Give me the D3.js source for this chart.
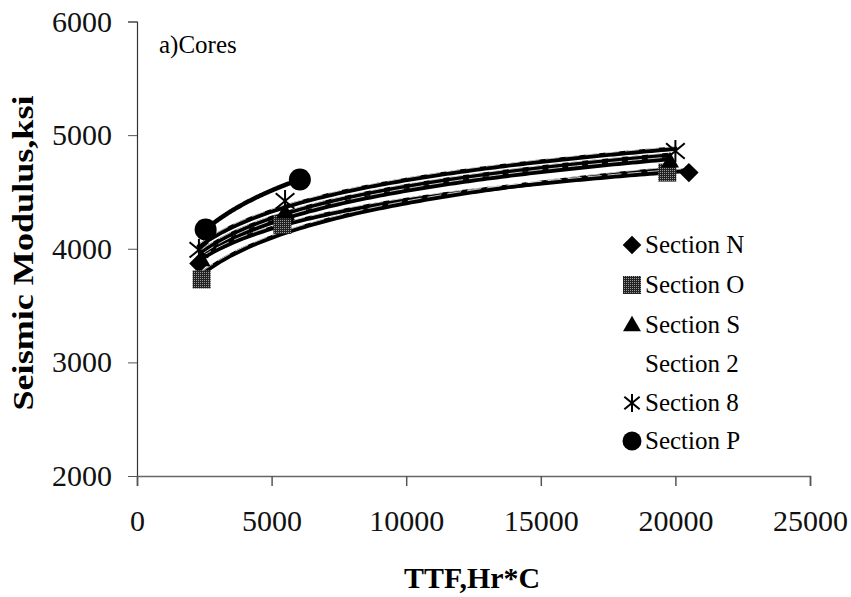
<!DOCTYPE html>
<html>
<head>
<meta charset="utf-8">
<script src="https://cdn.jsdelivr.net/npm/d3@7"></script>
<style>
  html, body { margin: 0; padding: 0; background: #fff; }
  svg { display: block; }
</style>
</head>
<body>
<svg id="chart" width="851" height="597"></svg>
<script>
// Seismic modulus of cores vs. time-temperature factor
const xTicks = [0, 5000, 10000, 15000, 20000, 25000];
const yTicks = [2000, 3000, 4000, 5000, 6000];

const sectionNames = ["Section N", "Section O", "Section S", "Section 2", "Section 8", "Section P"];
const sectionSymbols = ["diamond", "square", "triangle", "none", "asterisk", "circle"];

const ttfN = [2300, 5500, 20500];
const modN = [3870, 4260, 4670];
const ttfO = [2400, 5400, 19700];
const modO = [3730, 4210, 4670];
const ttfS = [2400, 5500, 19800];
const modS = [3900, 4320, 4770];
const ttf2 = [2400, 5500, 19800];
const mod2 = [3950, 4350, 4810];
const ttf8 = [2300, 5500, 20000];
const mod8 = [3990, 4420, 4860];
const ttfP = [2550, 6050];
const modP = [4170, 4610];

const ttfs = [ttfN, ttfO, ttfS, ttf2, ttf8, ttfP];
const mods = [modN, modO, modS, mod2, mod8, modP];

const series = sectionNames.map((name, i) => ({
  name,
  symbol: sectionSymbols[i],
  points: ttfs[i].map((x, j) => ({ x, y: mods[i][j] }))
}));

const svg = d3.select("#chart");
const x = d3.scaleLinear().domain([0, 25000]).range([137, 810]);
const y = d3.scaleLinear().domain([2000, 6000]).range([476, 21.5]);

const serif = "'Liberation Serif', 'Times New Roman', serif";

// dithered fill used by the square markers
const defs = svg.append("defs");
const pat = defs.append("pattern").attr("id", "dither")
  .attr("width", 2).attr("height", 2).attr("patternUnits", "userSpaceOnUse");
pat.append("rect").attr("width", 2).attr("height", 2).attr("fill", "#222");
pat.append("rect").attr("width", 1).attr("height", 1).attr("fill", "#999");

// axes
const yAxis = d3.axisLeft(y).tickValues(yTicks).tickSize(9).tickPadding(16).tickFormat(d3.format("d"));
const gy = svg.append("g").attr("transform", `translate(${x(0)},0)`).call(yAxis);
gy.select(".domain").attr("stroke", "#333").attr("stroke-width", 1.2);
gy.selectAll(".tick line").attr("stroke", "#555");
gy.selectAll(".tick text").attr("font-family", serif).attr("font-size", 30).attr("fill", "#111");

const xAxis = d3.axisBottom(x).tickValues(xTicks).tickSize(10).tickPadding(24).tickFormat(d3.format("d"));
const gx = svg.append("g").attr("transform", `translate(0,${y(2000)})`).call(xAxis);
gx.select(".domain").attr("stroke", "#666").attr("stroke-width", 1.5);
gx.selectAll(".tick line").attr("stroke", "#555").attr("stroke-width", 1.5);
gx.selectAll(".tick text").attr("font-family", serif).attr("font-size", 30).attr("fill", "#111");

// axis titles
svg.append("text")
  .attr("x", 472).attr("y", 588)
  .attr("text-anchor", "middle")
  .attr("font-family", serif).attr("font-weight", "bold").attr("font-size", 30)
  .attr("textLength", 136).attr("lengthAdjust", "spacingAndGlyphs")
  .text("TTF,Hr*C");

svg.append("text")
  .attr("transform", "translate(33,253) rotate(-90)")
  .attr("text-anchor", "middle")
  .attr("font-family", serif).attr("font-weight", "bold").attr("font-size", 30)
  .attr("textLength", 315).attr("lengthAdjust", "spacingAndGlyphs")
  .text("Seismic Modulus,ksi");

svg.append("text")
  .attr("x", 159).attr("y", 53)
  .attr("font-family", serif).attr("font-size", 25)
  .text("a)Cores");

// logarithmic trend line y = a*ln(x) + b, fitted to each section's points
function logFit(pts) {
  const lx = pts.map(p => Math.log(p.x));
  const mx = d3.mean(lx), my = d3.mean(pts, p => p.y);
  let sxy = 0, sxx = 0;
  pts.forEach((p, i) => { sxy += (lx[i] - mx) * (p.y - my); sxx += (lx[i] - mx) ** 2; });
  const a = sxy / sxx, b = my - a * mx;
  return v => a * Math.log(v) + b;
}

const line = d3.line().x(d => x(d[0])).y(d => y(d[1])).curve(d3.curveLinear);

function trendPoints(s, offset) {
  const f = logFit(s.points);
  const [x0, x1] = d3.extent(s.points, p => p.x);
  return d3.range(0, 101).map(k => {
    const v = x0 + (x1 - x0) * k / 100;
    return [v, f(v) + offset];
  });
}

const trends = svg.append("g");
series.forEach(s => {
  trends.append("path").attr("d", line(trendPoints(s, 0)))
    .attr("fill", "none").attr("stroke", "#000").attr("stroke-width", 4.5)
    .attr("stroke-linecap", "round");
});
// thin light streaks between adjacent trend lines
series.forEach(s => {
  if (s.symbol === "circle") return;
  trends.append("path").attr("d", line(trendPoints(s, 18)))
    .attr("fill", "none").attr("stroke", "#fff").attr("stroke-width", 0.9)
    .attr("stroke-dasharray", "14 6").attr("opacity", 0.85);
});

// marker drawing
function drawMarker(g, symbol, cx, cy, size) {
  const s = size;
  if (symbol === "diamond") {
    g.append("path").attr("d", d3.symbol(d3.symbolDiamond2, s * s / 2)())
      .attr("transform", `translate(${cx},${cy})`).attr("fill", "#000");
  } else if (symbol === "square") {
    g.append("rect").attr("x", cx - s / 2).attr("y", cy - s / 2)
      .attr("width", s).attr("height", s).attr("fill", "url(#dither)");
  } else if (symbol === "triangle") {
    g.append("path").attr("d", d3.symbol(d3.symbolTriangle, s * s * 0.43)())
      .attr("transform", `translate(${cx},${cy + 1})`).attr("fill", "#000");
  } else if (symbol === "asterisk") {
    const r = s / 2;
    const gg = g.append("g").attr("transform", `translate(${cx},${cy})`)
      .attr("stroke", "#000").attr("stroke-width", 2);
    gg.append("line").attr("x1", 0).attr("y1", -r).attr("x2", 0).attr("y2", r);
    gg.append("line").attr("x1", -r * 0.85).attr("y1", -r * 0.7).attr("x2", r * 0.85).attr("y2", r * 0.7);
    gg.append("line").attr("x1", -r * 0.85).attr("y1", r * 0.7).attr("x2", r * 0.85).attr("y2", -r * 0.7);
  } else if (symbol === "circle") {
    g.append("circle").attr("cx", cx).attr("cy", cy).attr("r", s / 2).attr("fill", "#000");
  }
}

const marks = svg.append("g");
series.forEach(s => {
  const sz = s.symbol === "circle" ? 22 : s.symbol === "asterisk" ? 22 : s.symbol === "diamond" ? 22 : 18;
  s.points.forEach(p => drawMarker(marks, s.symbol, x(p.x), y(p.y), sz));
});

// legend
const legend = svg.append("g");
const rowY = [245, 285, 325, 364, 403, 441];
series.forEach((s, i) => {
  const ly = rowY[i];
  const sz = s.symbol === "diamond" ? 21 : s.symbol === "circle" ? 19 : 18;
  drawMarker(legend, s.symbol, 632, ly, sz);
  legend.append("text")
    .attr("x", 645).attr("y", ly + 8)
    .attr("font-family", serif).attr("font-size", 25)
    .text(s.name);
});
</script>
</body>
</html>
